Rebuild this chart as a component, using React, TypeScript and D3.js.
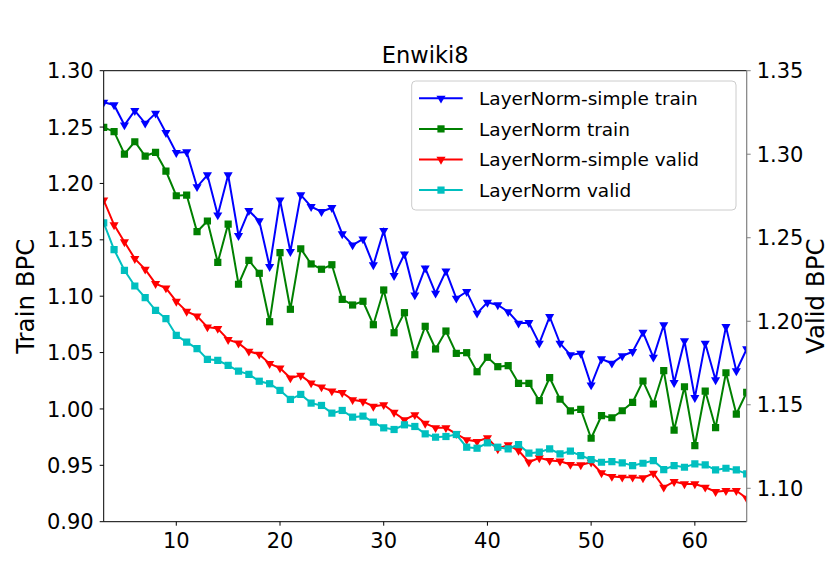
import React from 'react';
import * as d3 from 'd3';

const WIDTH = 830;
const HEIGHT = 587;
const margin = { l: 103.7, r: 83.3, t: 70.7, b: 65.3 };

// epochs
const epochs = [
  3, 4, 5, 6, 7, 8, 9, 10, 11, 12, 13, 14, 15, 16, 17, 18, 19, 20, 21, 22, 23, 24, 25, 26, 27, 28,
  29, 30, 31, 32, 33, 34, 35, 36, 37, 38, 39, 40, 41, 42, 43, 44, 45, 46, 47, 48, 49, 50, 51, 52,
  53, 54, 55, 56, 57, 58, 59, 60, 61, 62, 63, 64, 65,
];

// left axis (Train BPC)
const simpleTrain = [
  1.272, 1.2696, 1.2518, 1.2645, 1.2533, 1.2622, 1.245, 1.2273, 1.2279, 1.197, 1.2075, 1.172,
  1.2075, 1.1537, 1.1758, 1.1667, 1.1262, 1.1853, 1.1395, 1.1898, 1.1794, 1.175, 1.1785, 1.1552,
  1.1454, 1.1507, 1.1277, 1.1581, 1.1182, 1.1374, 1.101, 1.125, 1.1026, 1.1223, 1.0981, 1.104,
  1.0848, 1.0945, 1.0922, 1.0862, 1.076, 1.0765, 1.0582, 1.0818, 1.0582, 1.0479, 1.0493, 1.0212,
  1.0443, 1.0405, 1.047, 1.0508, 1.068, 1.0458, 1.0745, 1.0233, 1.0603, 1.01, 1.0582, 1.0257,
  1.073, 1.0337, 1.0532,
];
const lnTrain = [
  1.2498, 1.2459, 1.2261, 1.237, 1.2243, 1.2276, 1.211, 1.1891, 1.1897, 1.1572, 1.1667, 1.13,
  1.164, 1.1106, 1.1318, 1.1203, 1.0774, 1.1386, 1.0884, 1.1421, 1.1286, 1.1239, 1.1279, 1.0972,
  1.0922, 1.0955, 1.0747, 1.1055, 1.0676, 1.0854, 1.0481, 1.0733, 1.0532, 1.0691, 1.0493, 1.0499,
  1.033, 1.0458, 1.0375, 1.0384, 1.0227, 1.0227, 1.0073, 1.0277, 1.0086, 0.9982, 0.9997, 0.974,
  0.994, 0.9922, 0.9984, 1.0059, 1.0248, 1.0044, 1.0339, 0.9813, 1.0197, 0.9674, 1.0159, 0.9834,
  1.0321, 0.9955, 1.0148,
];

// right axis (Valid BPC)
const simpleValid = [
  1.2725, 1.2577, 1.2475, 1.2375, 1.2311, 1.2225, 1.2199, 1.2119, 1.2059, 1.2031, 1.1965, 1.1956,
  1.189, 1.1869, 1.182, 1.1802, 1.1746, 1.172, 1.166, 1.1676, 1.163, 1.1606, 1.1582, 1.1572, 1.153,
  1.152, 1.149, 1.15, 1.1454, 1.141, 1.144, 1.1388, 1.1362, 1.1362, 1.1326, 1.129, 1.128, 1.1302,
  1.1236, 1.126, 1.1226, 1.1156, 1.1182, 1.1166, 1.1162, 1.1142, 1.114, 1.1156, 1.1092, 1.107,
  1.1066, 1.1066, 1.1062, 1.109, 1.1006, 1.104, 1.1026, 1.1026, 1.1006, 1.098, 1.0986, 1.0986,
  1.094,
];
const lnValid = [
  1.2589, 1.2429, 1.2305, 1.2211, 1.2141, 1.2065, 1.2016, 1.1916, 1.1875, 1.1836, 1.1772, 1.1766,
  1.1736, 1.1701, 1.1682, 1.1641, 1.1626, 1.1586, 1.1532, 1.1562, 1.151, 1.1496, 1.145, 1.1466,
  1.1426, 1.1432, 1.1396, 1.1362, 1.1352, 1.138, 1.137, 1.1326, 1.1306, 1.131, 1.1322, 1.1246,
  1.124, 1.1272, 1.1246, 1.1236, 1.1262, 1.121, 1.1216, 1.1236, 1.1206, 1.1222, 1.1196, 1.1172,
  1.1156, 1.116, 1.1152, 1.1136, 1.115, 1.1166, 1.1112, 1.1136, 1.1126, 1.1146, 1.114, 1.111,
  1.112, 1.111, 1.1086,
];

const xTicks = [10, 20, 30, 40, 50, 60];
const leftTicks = [0.9, 0.95, 1.0, 1.05, 1.1, 1.15, 1.2, 1.25, 1.3];
const rightTicks = [1.1, 1.15, 1.2, 1.25, 1.3, 1.35];

const seriesList = [
  { name: 'LayerNorm-simple train', values: simpleTrain, color: '#0000ff', marker: 'tri', axis: 'l' },
  { name: 'LayerNorm train', values: lnTrain, color: '#008000', marker: 'sq', axis: 'l' },
  { name: 'LayerNorm-simple valid', values: simpleValid, color: '#ff0000', marker: 'tri', axis: 'r' },
  { name: 'LayerNorm valid', values: lnValid, color: '#00bfbf', marker: 'sq', axis: 'r' },
];

const FONT = 'DejaVu Sans, sans-serif';

const App = () => {
  const w = WIDTH - margin.l - margin.r;
  const h = HEIGHT - margin.t - margin.b;

  const x = d3.scaleLinear().domain([3, 65]).range([0, w]);
  const yL = d3.scaleLinear().domain([0.9, 1.3]).range([h, 0]);
  const yR = d3.scaleLinear().domain([1.08, 1.35]).range([h, 0]);

  const triPath = d3.symbol(d3.symbolTriangle, 36)() || '';
  const sqPath = d3.symbol(d3.symbolSquare, 52)() || '';

  return (
    <svg
      width={WIDTH}
      height={HEIGHT}
      style={{ position: 'absolute', left: 0, top: 0, background: '#fff' }}
      fontFamily={FONT}
    >
      <defs>
        <clipPath id="plot-clip">
          <rect x={0} y={0} width={w} height={h} />
        </clipPath>
      </defs>
      <text x={margin.l + w / 2} y={63} textAnchor="middle" fontSize={22.5}>
        Enwiki8
      </text>
      <g transform={`translate(${margin.l}, ${margin.t})`}>
        <g clipPath="url(#plot-clip)">
          {seriesList.map((s) => {
            const y = s.axis === 'l' ? yL : yR;
            const line = d3
              .line<number>()
              .x((_, i) => x(epochs[i]))
              .y((d) => y(d));
            return (
              <g key={s.name}>
                <path d={line(s.values) || ''} stroke={s.color} strokeWidth={2} fill="none" />
                {s.values.map((v, i) => (
                  <path
                    key={i}
                    d={s.marker === 'tri' ? triPath : sqPath}
                    transform={`translate(${x(epochs[i])}, ${y(v)})${s.marker === 'tri' ? ' rotate(180)' : ''}`}
                    fill={s.color}
                  />
                ))}
              </g>
            );
          })}
        </g>

        {/* spines */}
        <line x1={0} x2={w} y1={0} y2={0} stroke="#000" strokeWidth={1} />
        <line x1={0} x2={w} y1={h} y2={h} stroke="#000" strokeWidth={1} />
        <line x1={0} x2={0} y1={0} y2={h} stroke="#000" strokeWidth={1} />
        <line x1={w} x2={w} y1={0} y2={h} stroke="#808080" strokeWidth={1.2} />

        {/* x axis */}
        {xTicks.map((t) => (
          <g key={t} transform={`translate(${x(t)}, ${h})`}>
            <line y1={0} y2={4} stroke="#000" />
            <text y={26.5} textAnchor="middle" fontSize={21}>
              {t}
            </text>
          </g>
        ))}

        {/* left axis */}
        {leftTicks.map((t) => (
          <g key={t} transform={`translate(0, ${yL(t)})`}>
            <line x1={-4} x2={0} stroke="#000" />
            <text x={-10} dy="0.36em" textAnchor="end" fontSize={21}>
              {t.toFixed(2)}
            </text>
          </g>
        ))}

        {/* right axis */}
        {rightTicks.map((t) => (
          <g key={t} transform={`translate(${w}, ${yR(t)})`}>
            <line x1={0} x2={4} stroke="#808080" />
            <text x={10} dy="0.36em" textAnchor="start" fontSize={21}>
              {t.toFixed(2)}
            </text>
          </g>
        ))}

        <text
          transform={`translate(${33.5 - margin.l}, ${h / 2}) rotate(-90)`}
          textAnchor="middle"
          fontSize={24.5}
        >
          Train BPC
        </text>
        <text
          transform={`translate(${824 - margin.l}, ${h / 2}) rotate(-90)`}
          textAnchor="middle"
          fontSize={24.5}
        >
          Valid BPC
        </text>
      </g>

      {/* legend */}
      <g transform="translate(411.7, 81)">
        <rect
          x={0}
          y={0}
          width={324.3}
          height={129}
          rx={4}
          fill="#fff"
          fillOpacity={0.8}
          stroke="#cccccc"
        />
        {seriesList.map((s, i) => (
          <g key={s.name} transform={`translate(0, ${17.3 + i * 30.6})`}>
            <line x1={7.3} x2={51} stroke={s.color} strokeWidth={2} />
            <path
              d={s.marker === 'tri' ? triPath : sqPath}
              transform={`translate(29.3, 0)${s.marker === 'tri' ? ' rotate(180)' : ''}`}
              fill={s.color}
            />
            <text x={67.3} dy="0.36em" fontSize={18.5}>
              {s.name}
            </text>
          </g>
        ))}
      </g>
    </svg>
  );
};

export default App;
